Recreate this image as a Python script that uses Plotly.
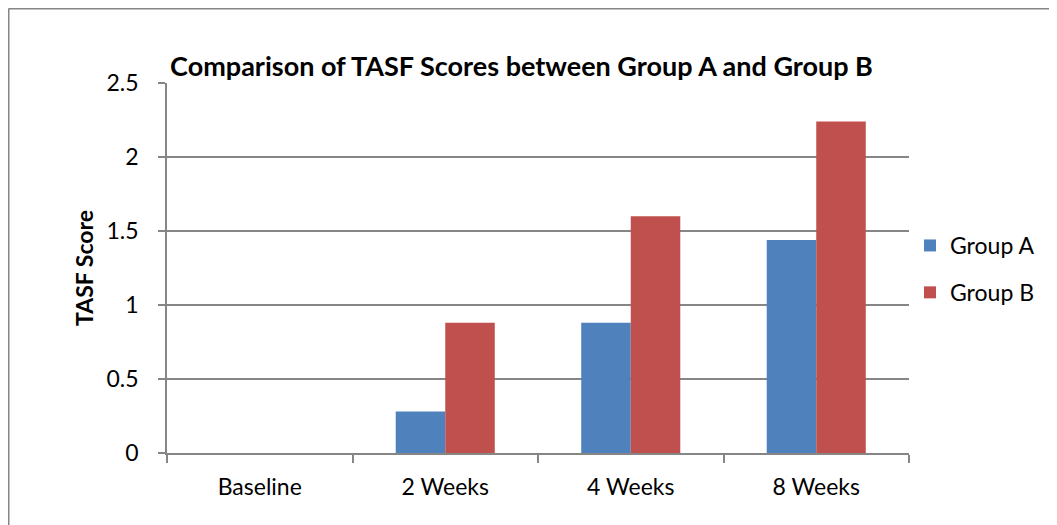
import plotly.graph_objects as go

categories = ["Baseline", "2 Weeks", "4 Weeks", "8 Weeks"]
group_a = [0, 0.28, 0.88, 1.44]
group_b = [0, 0.88, 1.60, 2.24]
series_names = ["Group A", "Group B"]
y_ticks = [0, 0.5, 1, 1.5, 2, 2.5]

# page body has an 8px default margin; size the figure to fit the window
OFF = 8
W, H = 1057 - OFF, 525 - OFF
ML, MT = 167 - OFF, 83 - OFF
PW, PH = 742, 370
MR, MB = W - ML - PW, H - MT - PH
FONT = "Lato, 'Open Sans', sans-serif"
GRID = "#868686"

fig = go.Figure()
fig.add_trace(go.Bar(x=categories, y=group_a, name=series_names[0],
                     marker=dict(color="#4F81BD", line=dict(width=0)),
                     legendgroup="a"))
fig.add_trace(go.Bar(x=categories, y=group_b, name=series_names[1],
                     marker=dict(color="#C0504D", line=dict(width=0)),
                     legendgroup="b"))

def px_to_paper_x(px):
    return (px - OFF - ML) / PW

def px_to_paper_y(py):
    return (H - MB - (py - OFF)) / PH

fig.update_layout(
    width=W, height=H,
    margin=dict(l=ML, r=MR, t=MT, b=MB, pad=0),
    paper_bgcolor="white", plot_bgcolor="white",
    font=dict(family=FONT, color="#000000", size=23),
    barmode="group", bargap=0.466, bargroupgap=0,
    title=dict(text="<b>Comparison of TASF Scores between Group A and Group B</b>",
               font=dict(family=FONT, size=27, color="#000000"),
               x=px_to_paper_x(521.5), xref="paper", xanchor="center",
               y=1 - (66.5 - OFF) / H, yref="container", yanchor="middle"),
    xaxis=dict(showline=True, linecolor=GRID, linewidth=1.5,
               ticks="outside", tickson="boundaries", ticklen=8,
               tickcolor=GRID, tickwidth=1.5, showgrid=False,
               ticklabelstandoff=13,
               tickfont=dict(size=23, family=FONT, color="#000000")),
    yaxis=dict(range=[0, 2.5], tickvals=y_ticks, showline=True, linecolor=GRID,
               linewidth=1.5, ticks="outside", ticklen=7, tickcolor=GRID,
               tickwidth=1.5, showgrid=True, gridcolor=GRID, gridwidth=1.5,
               zeroline=False, ticklabelstandoff=15,
               tickfont=dict(size=23, family=FONT, color="#000000"),
               title=dict(text="<b>TASF Score</b>", standoff=6,
                          font=dict(size=23, family=FONT, color="#000000"))),
    legend=dict(x=px_to_paper_x(910), xanchor="left", y=px_to_paper_y(224),
                yanchor="top", traceorder="grouped", tracegroupgap=14,
                font=dict(size=23, family=FONT, color="#000000"),
                bgcolor="rgba(0,0,0,0)"),
    showlegend=True,
)

# outer chart frame (left and top edges visible)
fig.add_shape(type="line", xref="paper", yref="paper",
              x0=px_to_paper_x(8.5), x1=px_to_paper_x(8.5),
              y0=px_to_paper_y(530), y1=px_to_paper_y(8.5),
              line=dict(color=GRID, width=2))
fig.add_shape(type="line", xref="paper", yref="paper",
              x0=px_to_paper_x(8.5), x1=px_to_paper_x(1060),
              y0=px_to_paper_y(8.5), y1=px_to_paper_y(8.5),
              line=dict(color=GRID, width=2))

fig.write_html("out.html")
